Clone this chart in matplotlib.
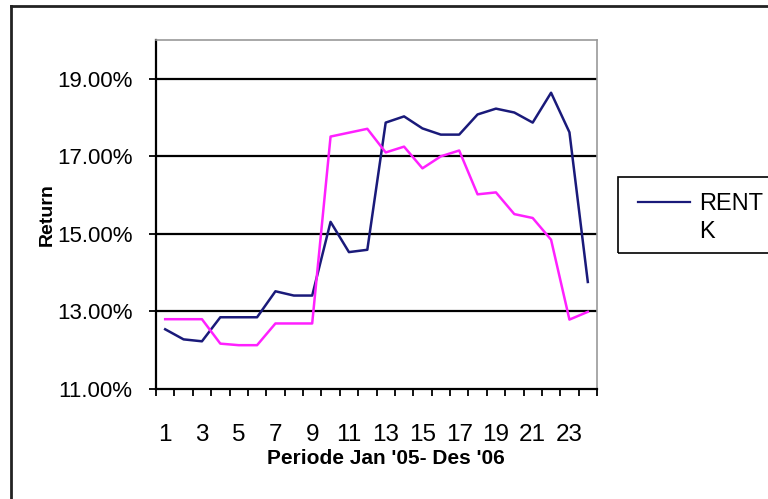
import matplotlib
matplotlib.use("Agg")
import matplotlib.pyplot as plt
from matplotlib.lines import Line2D
from matplotlib.patches import Rectangle
import numpy as np

plt.rcParams['font.family'] = ['Liberation Sans', 'DejaVu Sans']

periods = list(range(1, 25))
rent = [12.54, 12.28, 12.23, 12.85, 12.85, 12.85, 13.52, 13.41, 13.41, 15.31,
        14.53, 14.59, 17.87, 18.03, 17.72, 17.56, 17.56, 18.08, 18.23, 18.13,
        17.87, 18.64, 17.62, 13.76]
other = [12.80, 12.80, 12.80, 12.17, 12.13, 12.13, 12.69, 12.69, 12.69, 17.51,
         17.61, 17.71, 17.10, 17.25, 16.69, 17.00, 17.15, 16.02, 16.07, 15.51,
         15.41, 14.85, 12.79, 12.99]
ytick_vals = [11, 13, 15, 17, 19]
xtick_labels = [1, 3, 5, 7, 9, 11, 13, 15, 17, 19, 21, 23]
legend_label = ["RENT", "K"]

W, H = 768, 499
fig = plt.figure(figsize=(W / 100, H / 100), dpi=100)

# outer frame (left and top only visible)
fig.add_artist(Line2D([11 / W, 11 / W], [0, 1 - 6 / H], color='#222222', lw=2.0))
fig.add_artist(Line2D([11 / W, 1], [1 - 6 / H, 1 - 6 / H], color='#222222', lw=2.0))

ax = fig.add_axes([156 / W, 1 - 389 / H, 441 / W, 349 / H])
ax.set_facecolor('none')

ax.plot(periods, rent, color='#1a1a7a', lw=1.8, zorder=3)
ax.plot(periods, other, color='#ff20ff', lw=1.8, zorder=3)

ax.set_xlim(0.5, 24.5)
ax.set_ylim(11, 20)
ax.set_yticks(ytick_vals)
ax.set_yticklabels([f"{v:.2f}%" for v in ytick_vals], fontsize=16)
for v in ytick_vals[1:]:
    ax.axhline(v, color='black', lw=1.6, zorder=1)

ax.set_xticks(np.arange(0.5, 25.0, 1.0))
ax.set_xticklabels([])
ax.set_xticks(xtick_labels, minor=True)
ax.set_xticklabels([str(v) for v in xtick_labels], minor=True, fontsize=17.5)
ax.tick_params(axis='x', which='minor', length=0, pad=25)
ax.tick_params(axis='x', which='major', length=5, width=1.3, direction='out')
ax.tick_params(axis='y', which='major', length=5, width=1.3, direction='out', pad=12)

for s in ['top', 'right']:
    ax.spines[s].set_color('#999999')
    ax.spines[s].set_linewidth(1.2)
for s in ['left', 'bottom']:
    ax.spines[s].set_color('black')
    ax.spines[s].set_linewidth(1.6)

ax.set_ylabel("Return", fontsize=14, fontweight='bold')
ax.yaxis.set_label_coords((47 - 156) / 441, 0.5)
ax.yaxis.label.set_va('center')
ax.set_xlabel("Periode Jan '05- Des '06", fontsize=15, fontweight='bold')
ax.xaxis.set_label_coords((386 - 156) / 441, (389 - 459) / 349)
ax.xaxis.label.set_va('center')

# legend box (truncated at right edge)
fig.add_artist(Rectangle((618 / W, 1 - 253 / H), (W + 10 - 618) / W, (253 - 177) / H,
                         transform=fig.transFigure, fill=False, edgecolor='black', lw=1.2))
fig.add_artist(Line2D([638 / W, 690 / W], [1 - 202 / H, 1 - 202 / H], color='#1a1a7a', lw=1.6))
fig.text(699 / W, 1 - 204 / H, legend_label[0], fontsize=17, va='center', ha='left')
fig.text(699 / W, 1 - 232 / H, legend_label[1], fontsize=17, va='center', ha='left')

fig.savefig("out.png", dpi=100)
